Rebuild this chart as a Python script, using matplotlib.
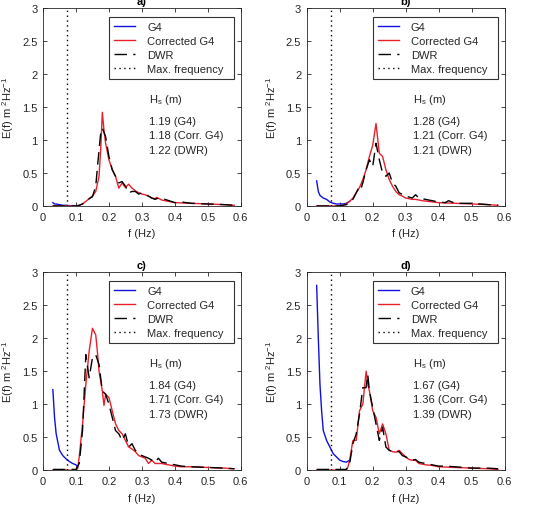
import numpy as np
import matplotlib.pyplot as plt

plt.rcParams['font.family'] = ['Liberation Sans', 'DejaVu Sans']
plt.rcParams['mathtext.fontset'] = 'custom'
plt.rcParams['mathtext.rm'] = 'Liberation Sans'
plt.rcParams['mathtext.it'] = 'Liberation Sans'

# spectra: (frequency, energy)
# panel a
a_g4_f = [0.03, 0.035, 0.04, 0.05, 0.06, 0.07, 0.08, 0.09, 0.10]
a_g4_e = [0.05, 0.03, 0.03, 0.02, 0.01, 0.01, 0.005, 0.005, 0.005]
a_cor_f = [0.03, 0.06, 0.09, 0.10, 0.11, 0.12, 0.13, 0.14, 0.15, 0.16, 0.17, 0.175, 0.18, 0.185, 0.19, 0.20, 0.21, 0.22, 0.23, 0.24, 0.25, 0.26, 0.27, 0.28, 0.29, 0.30, 0.31, 0.32, 0.33, 0.34, 0.345, 0.36, 0.38, 0.40, 0.45, 0.50, 0.55, 0.58]
a_cor_e = [0.0, 0.0, 0.0, 0.0, 0.01, 0.03, 0.07, 0.11, 0.15, 0.22, 0.45, 0.85, 1.42, 1.15, 0.95, 0.7, 0.55, 0.45, 0.27, 0.35, 0.28, 0.33, 0.27, 0.23, 0.2, 0.18, 0.17, 0.15, 0.12, 0.11, 0.13, 0.09, 0.07, 0.05, 0.04, 0.03, 0.02, 0.01]
a_dwr_f = [0.03, 0.06, 0.09, 0.10, 0.11, 0.12, 0.13, 0.14, 0.15, 0.16, 0.17, 0.175, 0.18, 0.19, 0.20, 0.21, 0.22, 0.23, 0.24, 0.25, 0.26, 0.27, 0.28, 0.29, 0.30, 0.31, 0.32, 0.33, 0.34, 0.35, 0.37, 0.40, 0.42, 0.45, 0.50, 0.55, 0.58]
a_dwr_e = [0.0, 0.0, 0.0, 0.0, 0.01, 0.03, 0.07, 0.11, 0.14, 0.3, 0.85, 1.1, 1.18, 1.05, 0.75, 0.55, 0.45, 0.35, 0.37, 0.3, 0.2, 0.22, 0.22, 0.18, 0.2, 0.17, 0.15, 0.12, 0.1, 0.12, 0.1, 0.05, 0.06, 0.04, 0.03, 0.02, 0.01]

# panel b
b_g4_f = [0.03, 0.035, 0.04, 0.05, 0.06, 0.07, 0.08, 0.09, 0.10, 0.11, 0.12, 0.13]
b_g4_e = [0.38, 0.22, 0.16, 0.12, 0.1, 0.06, 0.04, 0.03, 0.03, 0.03, 0.04, 0.07]
b_cor_f = [0.03, 0.06, 0.09, 0.11, 0.12, 0.13, 0.14, 0.15, 0.16, 0.17, 0.18, 0.19, 0.20, 0.21, 0.22, 0.23, 0.24, 0.25, 0.26, 0.27, 0.28, 0.29, 0.30, 0.32, 0.33, 0.35, 0.40, 0.45, 0.50, 0.55, 0.58]
b_cor_e = [0.0, 0.0, 0.0, 0.01, 0.03, 0.07, 0.12, 0.2, 0.28, 0.4, 0.55, 0.75, 0.92, 1.25, 0.8, 0.75, 0.55, 0.4, 0.3, 0.22, 0.17, 0.15, 0.12, 0.1, 0.1, 0.08, 0.05, 0.04, 0.03, 0.02, 0.01]
b_dwr_f = [0.03, 0.06, 0.09, 0.10, 0.12, 0.14, 0.15, 0.16, 0.165, 0.17, 0.18, 0.19, 0.20, 0.21, 0.22, 0.23, 0.24, 0.25, 0.26, 0.27, 0.28, 0.30, 0.32, 0.33, 0.34, 0.36, 0.38, 0.40, 0.42, 0.43, 0.45, 0.50, 0.55, 0.58]
b_dwr_e = [0.0, 0.0, 0.0, 0.0, 0.02, 0.1, 0.2, 0.3, 0.27, 0.35, 0.55, 0.7, 0.6, 0.95, 0.7, 0.5, 0.45, 0.5, 0.35, 0.3, 0.2, 0.15, 0.12, 0.17, 0.12, 0.1, 0.08, 0.06, 0.05, 0.08, 0.04, 0.04, 0.02, 0.01]

# panel c
c_g4_f = [0.03, 0.035, 0.04, 0.05, 0.06, 0.07, 0.08, 0.09, 0.10, 0.105]
c_g4_e = [1.22, 0.8, 0.55, 0.3, 0.22, 0.17, 0.13, 0.1, 0.08, 0.05]
c_cor_f = [0.03, 0.06, 0.09, 0.10, 0.105, 0.11, 0.12, 0.13, 0.14, 0.15, 0.16, 0.165, 0.17, 0.18, 0.185, 0.19, 0.20, 0.21, 0.22, 0.23, 0.24, 0.25, 0.26, 0.27, 0.28, 0.29, 0.30, 0.31, 0.32, 0.33, 0.34, 0.36, 0.38, 0.40, 0.42, 0.45, 0.50, 0.55, 0.58]
c_cor_e = [0.0, 0.0, 0.0, 0.0, 0.02, 0.2, 0.7, 1.3, 1.8, 2.15, 2.05, 1.8, 1.5, 1.2, 0.98, 1.15, 1.1, 0.9, 0.7, 0.6, 0.55, 0.45, 0.35, 0.32, 0.28, 0.22, 0.2, 0.18, 0.1, 0.15, 0.1, 0.1, 0.08, 0.06, 0.05, 0.05, 0.04, 0.03, 0.02]
c_dwr_f = [0.03, 0.06, 0.09, 0.10, 0.11, 0.12, 0.13, 0.14, 0.15, 0.16, 0.17, 0.18, 0.19, 0.20, 0.21, 0.22, 0.23, 0.24, 0.25, 0.26, 0.27, 0.28, 0.29, 0.30, 0.32, 0.34, 0.35, 0.36, 0.38, 0.40, 0.42, 0.45, 0.50, 0.55, 0.58]
c_dwr_e = [0.01, 0.01, 0.01, 0.01, 0.1, 0.6, 1.75, 1.4, 1.7, 1.75, 1.6, 1.2, 1.15, 1.0, 0.8, 0.6, 0.55, 0.45, 0.55, 0.35, 0.4, 0.3, 0.25, 0.22, 0.18, 0.12, 0.18, 0.12, 0.1, 0.08, 0.06, 0.05, 0.04, 0.03, 0.02]

# panel d
d_g4_f = [0.03, 0.035, 0.04, 0.045, 0.05, 0.06, 0.07, 0.075, 0.08, 0.09, 0.10, 0.11, 0.12, 0.13]
d_g4_e = [2.8, 2.0, 1.3, 0.9, 0.6, 0.45, 0.35, 0.3, 0.25, 0.2, 0.15, 0.13, 0.12, 0.15]
d_cor_f = [0.03, 0.06, 0.09, 0.12, 0.125, 0.13, 0.14, 0.15, 0.16, 0.17, 0.18, 0.185, 0.19, 0.20, 0.21, 0.22, 0.23, 0.24, 0.25, 0.26, 0.27, 0.28, 0.29, 0.30, 0.31, 0.32, 0.33, 0.34, 0.36, 0.38, 0.40, 0.45, 0.50, 0.55, 0.58]
d_cor_e = [0.0, 0.0, 0.0, 0.0, 0.05, 0.15, 0.45, 0.45, 0.9, 1.0, 1.5, 1.3, 1.2, 0.9, 0.8, 0.55, 0.7, 0.55, 0.3, 0.28, 0.27, 0.3, 0.25, 0.2, 0.16, 0.15, 0.15, 0.1, 0.08, 0.07, 0.05, 0.04, 0.03, 0.02, 0.01]
d_dwr_f = [0.03, 0.06, 0.09, 0.12, 0.13, 0.14, 0.15, 0.16, 0.17, 0.18, 0.185, 0.19, 0.20, 0.21, 0.22, 0.23, 0.24, 0.25, 0.26, 0.27, 0.28, 0.29, 0.30, 0.32, 0.33, 0.34, 0.36, 0.38, 0.40, 0.42, 0.45, 0.50, 0.55, 0.58]
d_dwr_e = [0.01, 0.01, 0.01, 0.01, 0.1, 0.4, 0.55, 0.85, 1.25, 1.25, 1.45, 1.2, 0.95, 0.7, 0.45, 0.65, 0.35, 0.3, 0.28, 0.28, 0.28, 0.22, 0.2, 0.15, 0.16, 0.12, 0.1, 0.08, 0.06, 0.06, 0.05, 0.03, 0.03, 0.02]

titles = ['a)', 'b)', 'c)', 'd)']
hs_texts = [['1.19 (G4)', '1.18 (Corr. G4)', '1.22 (DWR)'],
            ['1.28 (G4)', '1.21 (Corr. G4)', '1.21 (DWR)'],
            ['1.84 (G4)', '1.71 (Corr. G4)', '1.73 (DWR)'],
            ['1.67 (G4)', '1.36 (Corr. G4)', '1.39 (DWR)']]
max_freq = 0.072

panels = [(a_g4_f, a_g4_e, a_cor_f, a_cor_e, a_dwr_f, a_dwr_e),
          (b_g4_f, b_g4_e, b_cor_f, b_cor_e, b_dwr_f, b_dwr_e),
          (c_g4_f, c_g4_e, c_cor_f, c_cor_e, c_dwr_f, c_dwr_e),
          (d_g4_f, d_g4_e, d_cor_f, d_cor_e, d_dwr_f, d_dwr_e)]

grey = '#262626'
fs = 8
fig = plt.figure(figsize=(5.42, 5.06), dpi=100)
lefts = [0.0793, 0.566, 0.0793, 0.566]
bottoms = [0.591, 0.591, 0.069, 0.069]

for i, (g4f, g4e, cf, ce, df, de) in enumerate(panels):
    ax = fig.add_axes([lefts[i], bottoms[i], 0.365, 0.391])
    ax.plot(g4f, g4e, color='#1010e0', lw=1.0, label='G4')
    ax.plot(cf, ce, color='#e8202a', lw=1.0, label='Corrected G4')
    ax.plot(df, de, color='black', lw=1.0, ls=(0, (9, 4.5)), label='DWR')
    ax.axvline(max_freq, color='black', lw=1.0, ls=(0, (1, 2.5)), label='Max. frequency')
    ax.set_xlim(0, 0.6)
    ax.set_ylim(0, 3)
    ax.set_xticks(np.arange(0, 0.61, 0.1))
    ax.set_xticklabels(['0', '0.1', '0.2', '0.3', '0.4', '0.5', '0.6'])
    ax.set_yticks(np.arange(0, 3.01, 0.5))
    ax.set_yticklabels(['0', '0.5', '1', '1.5', '2', '2.5', '3'])
    ax.tick_params(direction='in', top=True, right=True, length=3, width=0.6,
                   labelsize=fs, colors=grey, pad=4)
    for s in ax.spines.values():
        s.set_color(grey)
        s.set_linewidth(0.6)
    ax.set_xlabel('f (Hz)', fontsize=fs, color=grey, labelpad=5)
    ax.set_ylabel('E(f) m $^{2}$Hz$^{-1}$', fontsize=fs, color=grey, labelpad=4)
    ax.set_title(titles[i], fontsize=fs, fontweight='bold', pad=3)
    leg = ax.legend(loc='upper left', bbox_to_anchor=(0.333, 0.65, 0.632, 0.305),
                    mode='expand', fontsize=fs,
                    frameon=True, fancybox=False, handlelength=1.9,
                    borderpad=0.45, labelspacing=0.35, handletextpad=1.1,
                    borderaxespad=0)
    leg.get_frame().set_edgecolor('black')
    leg.get_frame().set_linewidth(0.8)
    for t in leg.get_texts():
        t.set_color(grey)
    ax.text(0.535, 0.54, 'H$_s$ (m)', transform=ax.transAxes, fontsize=fs, color=grey, va='center')
    for k, line in enumerate(hs_texts[i]):
        ax.text(0.535, 0.43 - k * 0.073, line, transform=ax.transAxes,
                fontsize=fs, color=grey, va='center')

fig.savefig('out.png', dpi=100)
